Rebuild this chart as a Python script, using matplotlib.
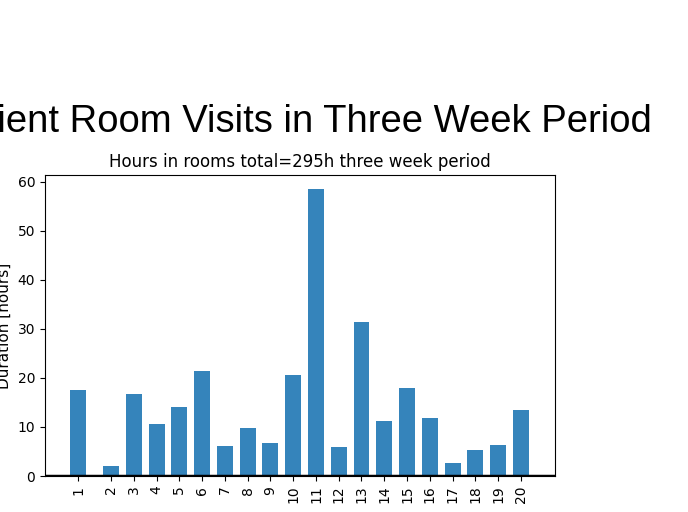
import numpy as np
import matplotlib.pyplot as plt

# room numbers, their positions on the x axis and hours spent in each
rooms = ['1', '2', '3', '4', '5', '6', '7', '8', '9', '10',
         '11', '12', '13', '14', '15', '16', '17', '18', '19', '20']
room_pos = [0, 1.45, 2.45, 3.45, 4.45, 5.45, 6.45, 7.45, 8.45, 9.45,
            10.45, 11.45, 12.45, 13.45, 14.45, 15.45, 16.45, 17.45, 18.45, 19.45]
hours = [17.6, 2.1, 16.8, 10.6, 14.0, 21.4, 6.1, 9.7, 6.7, 20.7,
         58.6, 6.0, 31.4, 11.3, 18.0, 11.9, 2.7, 5.4, 6.3, 13.5]

fig = plt.figure(figsize=(6.88, 5.12), dpi=100)
ax = fig.add_axes([45 / 688, 1 - 476 / 512, 510 / 688, 301 / 512])

ax.bar(room_pos, hours, width=0.7, color='#1f77b4', alpha=0.9)
ax.axhline(0, color='black', linewidth=2.5)

ax.set_xlim(-1.45, 20.95)
ax.set_ylim(0, 61.4)
ax.set_xticks(room_pos)
ax.set_xticklabels(rooms, rotation=90)
ax.set_ylabel('Duration [hours]', fontsize=11)
ax.set_title('Hours in rooms total=295h three week period', fontsize=12)

fig.text(296 / 688, 1 - 132 / 512, 'Patient Room Visits in Three Week Period',
         ha='center', va='baseline', fontsize=27.5, family='Liberation Sans')

plt.savefig('out.png', dpi=100)
